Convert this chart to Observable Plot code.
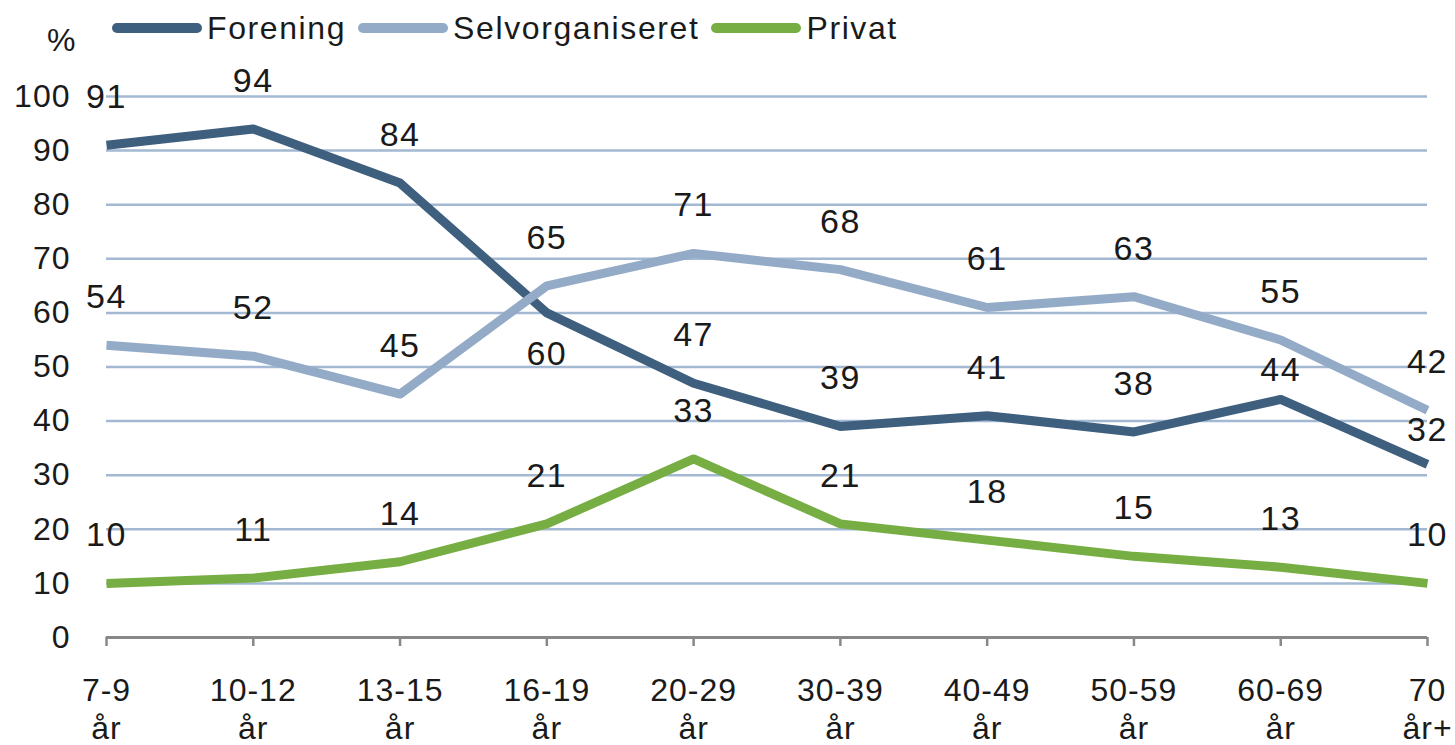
<!DOCTYPE html>
<html>
<head>
<meta charset="utf-8">
<script src="https://cdn.jsdelivr.net/npm/d3@7"></script>
<script src="https://cdn.jsdelivr.net/npm/@observablehq/plot@0.6"></script>
<style>
  html, body { margin: 0; padding: 0; background: #fff; }
  body { width: 1455px; height: 745px; overflow: hidden; font-family: "Liberation Sans", Arial, sans-serif; color: #1a1a1a; }
  #legend { position: relative; height: 56px; font-size: 32px; letter-spacing: 1.6px; }
  #legend .pct { position: absolute; left: 47px; top: 22px; line-height: 36px; letter-spacing: 0; }
  #legend .items { position: absolute; left: 112px; top: 10px; display: flex; align-items: center; height: 36px; }
  #legend .item { display: flex; align-items: center; margin-right: 12px; }
  #legend .sw { width: 90px; height: 10px; border-radius: 5px; margin-right: 5px; }
</style>
</head>
<body>
<div id="legend"></div>
<div id="chart"></div>
<script>
const categories = ["7-9 år", "10-12 år", "13-15 år", "16-19 år", "20-29 år", "30-39 år", "40-49 år", "50-59 år", "60-69 år", "70 år+"];
const tickLabels = ["7-9\når", "10-12\når", "13-15\når", "16-19\når", "20-29\når", "30-39\når", "40-49\når", "50-59\når", "60-69\når", "70\når+"];
const seriesNames = ["Forening", "Selvorganiseret", "Privat"];
const forening = [91, 94, 84, 60, 47, 39, 41, 38, 44, 32];
const selvorganiseret = [54, 52, 45, 65, 71, 68, 61, 63, 55, 42];
const privat = [10, 11, 14, 21, 33, 21, 18, 15, 13, 10];
const yTicks = [0, 10, 20, 30, 40, 50, 60, 70, 80, 90, 100];

const colors = {"Forening": "#3e5f7e", "Selvorganiseret": "#94abc8", "Privat": "#76ae43"};
// label offsets (pixels) where the reference deviates from "above"
const labelOffset = {"Forening|16-19 år": 41, "Forening|60-69 år": -29, "Forening|70 år+": -34};

const values = [forening, selvorganiseret, privat];
const data = [];
seriesNames.forEach((s, i) => categories.forEach((c, j) => data.push({series: s, cat: c, value: values[i][j]})));
const tickMap = new Map(categories.map((c, i) => [c, tickLabels[i]]));

// legend
const leg = document.getElementById("legend");
leg.innerHTML = `<div class="pct">%</div><div class="items">` +
  seriesNames.map(s => `<div class="item"><div class="sw" style="background:${colors[s]}"></div><span>${s}</span></div>`).join("") +
  `</div>`;

const groups = d3.group(data, d => labelOffset[d.series + "|" + d.cat] ?? -48);

const chart = Plot.plot({
  width: 1455,
  height: 689,
  marginTop: 40,
  marginBottom: 108,
  marginLeft: 106,
  marginRight: 28,
  style: {fontFamily: "'Liberation Sans', Arial, sans-serif", fontSize: "32px", color: "#1a1a1a", letterSpacing: "1px", overflow: "visible"},
  x: {type: "point", domain: categories, padding: 0, round: false},
  y: {domain: [0, 100]},
  color: {domain: seriesNames, range: seriesNames.map(s => colors[s])},
  marks: [
    Plot.ruleY(yTicks.filter(t => t > 0), {stroke: "#a3b8d2", strokeWidth: 2.5}),
    Plot.axisY({ticks: yTicks, tickSize: 0, tickPadding: 36, label: null, fontSize: 32}),
    Plot.axisX({tickSize: 9, tickPadding: 28, stroke: "#888", strokeWidth: 2.5, label: null, fontSize: 32, lineHeight: 1.18, tickFormat: d => tickMap.get(d)}),
    Plot.ruleY([0], {stroke: "#888", strokeWidth: 3}),
    Plot.line(data, {x: "cat", y: "value", z: "series", stroke: "series", strokeWidth: 9, strokeLinejoin: "round", strokeLinecap: "butt"}),
    ...Array.from(groups, ([dy, rows]) =>
      Plot.text(rows, {x: "cat", y: "value", text: d => String(d.value), dy, fill: "#1a1a1a", fontSize: 34, style: ""})
    )
  ]
});
chart.querySelectorAll("g[aria-label='text'] text").forEach(t => t.style.letterSpacing = "1.5px");
document.getElementById("chart").appendChild(chart);
</script>
</body>
</html>
